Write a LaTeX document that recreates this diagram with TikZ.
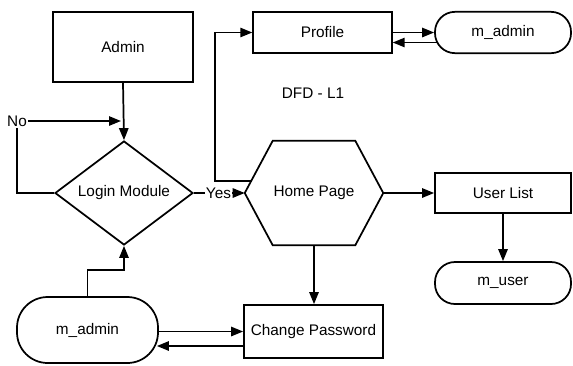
\documentclass[tikz,border=0pt]{standalone}
\usepackage{fontspec}
\setmainfont{Liberation Sans}
\usetikzlibrary{arrows.meta,shapes.geometric,calc}
\begin{document}
\begin{tikzpicture}[x=0.75pt,y=-0.75pt,
  font=\fontsize{11.5}{13}\selectfont,
  line/.style={draw=black, line width=1.3pt},
  flow/.style={line, -{Triangle[length=9pt,width=7pt]}},
  proc/.style={line, rectangle, inner sep=0pt},
  store/.style={line, rectangle, rounded corners=#1, inner sep=0pt},
  tag/.style={inner sep=1pt}]
\useasboundingbox (0,0) rectangle (573,365);

% processes and stores
\node[proc, minimum width=105pt, minimum height=52.5pt] (admin) at (123,47) {Admin};
\node[line, diamond, inner sep=0pt, minimum width=103.5pt, minimum height=78pt] (login) at (124,193) {};
\node (logintxt) at (login.center) {Login Module};
\node[inner sep=0pt, minimum width=103.5pt, minimum height=78pt] (home) at (314,193) {Home Page};
\coordinate (hexTL) at ($(home.north west)+(28,0)$);
\coordinate (hexTR) at ($(home.north east)+(-28,0)$);
\coordinate (hexBR) at ($(home.south east)+(-28,0)$);
\coordinate (hexBL) at ($(home.south west)+(28,0)$);
\draw[line] (home.west) -- (hexTL) -- (hexTR) -- (home.east) -- (hexBR) -- (hexBL) -- cycle;

\node[proc, minimum width=104pt, minimum height=31pt] (profile) at (322.5,32.5) {Profile};
\node[store=15pt, minimum width=102pt, minimum height=31pt] (madminA) at (503,32.5) {m\_admin};
\node[proc, minimum width=102pt, minimum height=30pt] (userlist) at (503,193) {User List};
\node[store=15pt, minimum width=102pt, minimum height=31.5pt] (muser) at (503,283) {m\_user};
\node[proc, minimum width=104.25pt, minimum height=39.75pt] (changepw) at (313.5,331.5) {Change Password};
\node[store=23pt, minimum width=105.75pt, minimum height=49.5pt] (madminB) at (87.5,330) {m\_admin};

\node (dfd) at (313,93) {DFD - L1};
\node[tag] (no) at (17,121) {No};

% data flows
\draw[flow] (admin.south) -- (login.north);
\draw[line] (login.west) -- (login.west -| no.south) -- (no.south);
\coordinate (noend) at (121,121);
\draw[flow] (no.east) -- (noend);

\draw[flow] (login.east) -- (home.west);
\node[tag, fill=white] (yes) at (218.5,193) {Yes};

\coordinate (hexexit) at ($(home.west)!0.23!(hexTL)$);
\draw[flow] (hexexit) -- ++(-36,0) |- (profile.west);
\draw[flow] (profile.east) -- (madminA.west);
\draw[flow] ($(madminA.west)+(3,10)$) -- ($(profile.east)+(0,10)$);

\draw[flow] (home.east) -- (userlist.west);
\draw[flow] (userlist.south) -- (muser.north);
\draw[flow] (home.south) -- (home.south |- changepw.north);

\draw[flow] (changepw.west -| madminB.east) -- (changepw.west);
\draw[flow] ($(changepw.west)+(0,14.5)$) -- ($(madminB.east)+(-2,16)$);
\draw[flow] (madminB.north) -- ++(0,-26) -| (login.south);
\end{tikzpicture}
\end{document}
